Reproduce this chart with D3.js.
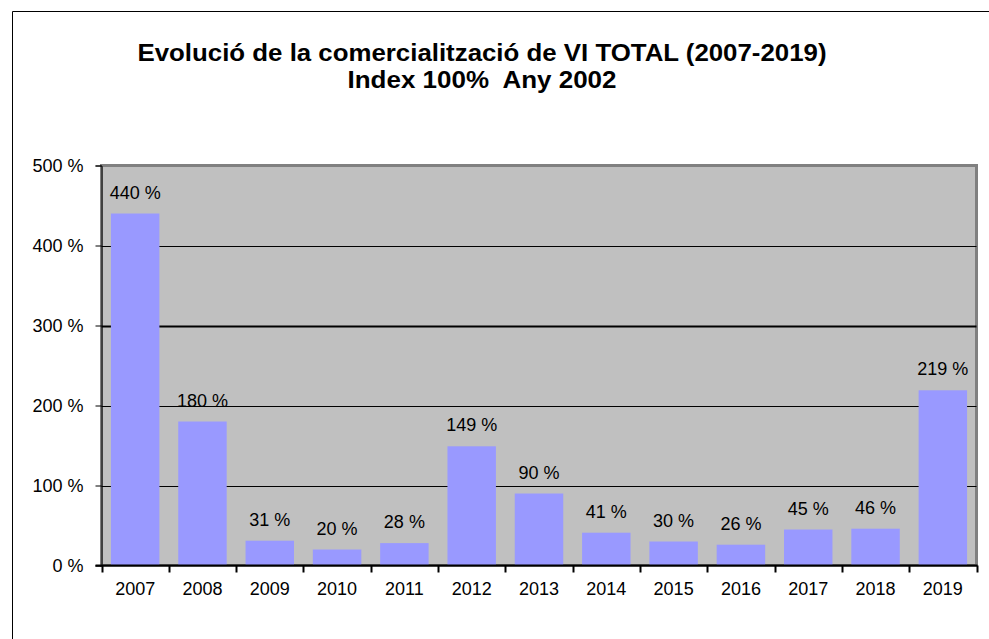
<!DOCTYPE html>
<html>
<head>
<meta charset="utf-8">
<script src="https://cdn.jsdelivr.net/npm/d3@7"></script>
<style>
  body { margin: 0; background: #fff; }
  text { font-family: "Liberation Sans", Arial, sans-serif; }
</style>
</head>
<body>
<svg id="chart" width="989" height="639"></svg>
<script>
// data
var years = ["2007","2008","2009","2010","2011","2012","2013","2014","2015","2016","2017","2018","2019"];
var values = [440, 180, 31, 20, 28, 149, 90, 41, 30, 26, 45, 46, 219];
var yTicks = [0, 100, 200, 300, 400, 500];
var titleLines = ["Evolució de la comercialització de VI TOTAL (2007-2019)", "Index 100%  Any 2002"];

var svg = d3.select("#chart");

// outer frame (only top + left visible)
svg.append("line").attr("x1", 12.5).attr("y1", 11.5).attr("x2", 989).attr("y2", 11.5)
  .attr("stroke", "#000").attr("stroke-width", 1);
svg.append("line").attr("x1", 12.5).attr("y1", 11.5).attr("x2", 12.5).attr("y2", 639)
  .attr("stroke", "#000").attr("stroke-width", 1);

// title (condensed bold, squeezed to the reference width)
svg.append("text").attr("x", 482).attr("y", 61).attr("text-anchor", "middle")
  .attr("font-size", 24).attr("font-weight", "bold")
  .attr("textLength", 689).attr("lengthAdjust", "spacingAndGlyphs")
  .text(titleLines[0]);
svg.append("text").attr("x", 482).attr("y", 88).attr("text-anchor", "middle")
  .attr("font-size", 23).attr("font-weight", "bold")
  .style("white-space", "pre")
  .attr("textLength", 269).attr("lengthAdjust", "spacingAndGlyphs")
  .text(titleLines[1]);

var plotL = 101.5, plotR = 976.5, plotT = 165.5, plotB = 565.5;

var x = d3.scaleBand().domain(years).range([plotL, plotR]).paddingInner(0.28).paddingOuter(0.14);
var y = d3.scaleLinear().domain([0, 500]).range([plotB, plotT]);

// plot area
svg.append("rect").attr("x", plotL).attr("y", plotT).attr("width", plotR - plotL).attr("height", plotB - plotT)
  .attr("fill", "#c0c0c0").attr("stroke", "#808080").attr("stroke-width", 3);

// gridlines
svg.append("g").selectAll("line").data(yTicks.filter(function (d) { return d > 0 && d < 500; }))
  .join("line")
  .attr("x1", plotL).attr("x2", plotR)
  .attr("y1", function (d) { return Math.round(y(d)) + 0.5; })
  .attr("y2", function (d) { return Math.round(y(d)) + 0.5; })
  .attr("stroke", "#000")
  .attr("stroke-width", function (d) { return d === 300 ? 2 : 1; });

// bars
svg.append("g").selectAll("rect").data(values).join("rect")
  .attr("x", function (d, i) { return x(years[i]); })
  .attr("y", function (d) { return y(d); })
  .attr("width", x.bandwidth())
  .attr("height", function (d) { return y(0) - y(d); })
  .attr("fill", "#9999ff");

// value labels
svg.append("g").selectAll("text").data(values).join("text")
  .attr("x", function (d, i) { return x(years[i]) + x.bandwidth() / 2; })
  .attr("y", function (d) { return y(d) - 15; })
  .attr("text-anchor", "middle")
  .attr("font-size", 18)
  .text(function (d) { return d + " %"; });

// y axis
var yAxis = d3.axisLeft(y).tickValues(yTicks).tickSize(6).tickPadding(12)
  .tickFormat(function (d) { return d + " %"; });
var gy = svg.append("g").attr("transform", "translate(" + plotL + ",0)").call(yAxis);
gy.select(".domain").attr("stroke", "#000").attr("stroke-width", 1);
gy.selectAll("text").attr("font-size", 18).attr("font-family", "Liberation Sans, Arial, sans-serif").attr("fill", "#000");

// x axis: labels centred, ticks at band boundaries
var xAxis = d3.axisBottom(x).tickSize(0).tickPadding(17);
var gx = svg.append("g").attr("transform", "translate(0," + plotB + ")").call(xAxis);
gx.select(".domain").remove();
gx.selectAll("text").attr("font-size", 18).attr("font-family", "Liberation Sans, Arial, sans-serif").attr("fill", "#000");

svg.append("line").attr("x1", plotL - 6).attr("x2", plotR + 1).attr("y1", plotB).attr("y2", plotB)
  .attr("stroke", "#000").attr("stroke-width", 2);

var bounds = d3.range(years.length + 1).map(function (i) { return plotL + i * x.step(); });
svg.append("g").selectAll("line").data(bounds).join("line")
  .attr("x1", function (d) { return Math.round(d) + 0.5; })
  .attr("x2", function (d) { return Math.round(d) + 0.5; })
  .attr("y1", plotB).attr("y2", plotB + 7)
  .attr("stroke", "#000").attr("stroke-width", 2);
</script>
</body>
</html>
